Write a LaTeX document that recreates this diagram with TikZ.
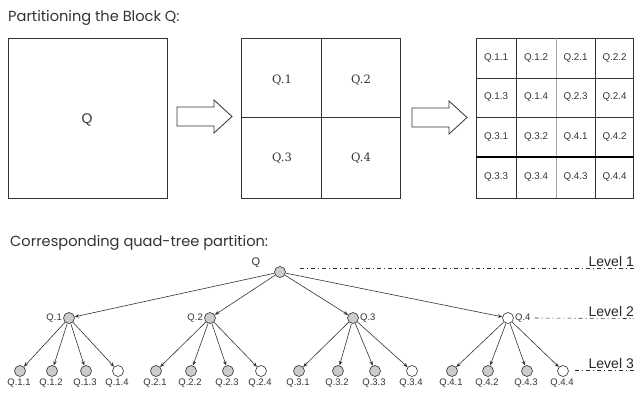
\documentclass[tikz,border=0pt]{standalone}
\usepackage{fontspec}
\setmainfont{Liberation Sans}
\newfontfamily\titlefont{Poppins}
\newfontfamily\labfont{Liberation Sans}
\newfontfamily\serfont{DejaVu Serif}
\usetikzlibrary{arrows.meta}
\definecolor{ln}{HTML}{333333}
\definecolor{nodefill}{HTML}{CCCCCC}
\tikzset{
  box/.style={draw=ln, line width=0.8pt},
  hollowarrow/.style={draw=ln, line width=0.8pt, fill=white},
  title/.style={font=\titlefont\fontsize{14.6}{16}\selectfont, text=ln, inner sep=0pt, anchor=base west},
  midlab/.style={font=\serfont\fontsize{11.5}{13}\selectfont, text=ln, inner sep=0pt},
  gridlab/.style={font=\labfont\fontsize{9.8}{11}\selectfont, text=ln, inner sep=0pt},
  tn/.style={circle, draw=ln, line width=0.6pt, fill=nodefill, minimum size=11pt, inner sep=0pt},
  tw/.style={circle, draw=ln, line width=0.6pt, fill=white, minimum size=11pt, inner sep=0pt},
  tlab/.style={font=\labfont\fontsize{9.5}{11}\selectfont, text=ln, inner sep=0pt},
  edge/.style={draw=ln, line width=0.6pt, -{Stealth[length=4.5pt,width=3.5pt]}},
  levelline/.style={draw=ln, line width=0.6pt, dash pattern=on 4pt off 3pt on 1pt off 3pt},
  leveltext/.style={font=\labfont\fontsize{14}{16}\selectfont, text=black!85, inner sep=0pt, anchor=base east},
}
\begin{document}
\begin{tikzpicture}[x=1pt,y=-1pt]
\useasboundingbox (0,0) rectangle (634,394);
% titles
\node[title] (t1) at (8,21) {Partitioning the Block Q:};
\node[title] (t2) at (10,246) {Corresponding quad-tree partition:};
% big square
\draw[box] (8,38) rectangle (167,198);
\node[font=\labfont\fontsize{14}{16}\selectfont, text=ln] (bigq) at (87,120) {Q};
% arrow 1
\draw[hollowarrow] (177,107) -- (214,107) -- (214,100) -- (232,116.5) -- (214,133) -- (214,126) -- (177,126) -- cycle;
% middle square
\draw[box] (241,38) rectangle (400,198);
\draw[box] (321,38) -- (321,198);
\draw[box] (241,117.5) -- (400,117.5);
\node[midlab] (m1) at (282,80) {Q.1};
\node[midlab] (m2) at (361,80) {Q.2};
\node[midlab] (m3) at (282,158) {Q.3};
\node[midlab] (m4) at (361,158) {Q.4};
% arrow 2
\draw[hollowarrow] (412,108) -- (449,108) -- (449,101) -- (467,117.5) -- (449,134) -- (449,127) -- (412,127) -- cycle;
% grid
\draw[box] (476,38) rectangle (633.5,198);
\draw[box] (516,38) -- (516,198);
\draw[box, draw=gray!70] (556,38) -- (556,198);
\draw[box] (595,38) -- (595,198);
\draw[box] (476,78) -- (633.5,78);
\draw[box] (476,117.5) -- (633.5,117.5);
\draw[box, line width=1.4pt, draw=black] (476,157) -- (633.5,157);
\foreach \lab/\x/\y in {Q.1.1/496/58, Q.1.2/536/58, Q.2.1/575.5/58, Q.2.2/614.5/58,
  Q.1.3/496/97.5, Q.1.4/536/97.5, Q.2.3/575.5/97.5, Q.2.4/614.5/97.5,
  Q.3.1/496/137, Q.3.2/536/137, Q.4.1/575.5/137, Q.4.2/614.5/137,
  Q.3.3/496/177.5, Q.3.4/536/177.5, Q.4.3/575.5/177.5, Q.4.4/614.5/177.5}
  \node[gridlab] (g\lab) at (\x,\y) {\lab};
% tree
\node[tn] (r) at (280,272) {};
\node[tlab, font=\labfont\fontsize{11}{13}\selectfont] (rl) at (256,263) {Q};
\node[tn] (q1) at (69,318) {};
\node[tn] (q2) at (210,318) {};
\node[tn] (q3) at (353,318) {};
\node[tw] (q4) at (508,318) {};
\node[tlab, anchor=east] (q1l) at (62,318) {Q.1};
\node[tlab, anchor=east] (q2l) at (203,318) {Q.2};
\node[tlab, anchor=west] (q3l) at (360,318) {Q.3};
\node[tlab, anchor=west] (q4l) at (515,318) {Q.4};
\foreach \n in {1,2,3,4} \draw[edge] (r) -- (q\n);
% level 3
\foreach \p/\k/\x/\s in {1/1/20/tn, 1/2/52/tn, 1/3/86/tn, 1/4/118/tw,
  2/1/156/tn, 2/2/191/tn, 2/3/228/tn, 2/4/261/tw,
  3/1/299/tn, 3/2/338/tn, 3/3/375/tn, 3/4/412/tw,
  4/1/452/tn, 4/2/488/tn, 4/3/527/tn, 4/4/563/tw} {
  \node[\s] (c\p\k) at (\x,371) {};
  \node[tlab, anchor=north] (c\p\k l) at (\x-1,378.5) {Q.\p.\k};
  \draw[edge] (q\p) -- (c\p\k);
}
% levels
\coordinate (l1s) at (300,268);
\coordinate (l1e) at (634,268);
\coordinate (l2e) at (634,318.5);
\coordinate (l3s) at (575,370);
\coordinate (l3e) at (634,370);
\draw[levelline] (l1s) -- (l1e);
\draw[levelline] ([xshift=4pt]q4l.east) -- (l2e);
\draw[levelline] (l3s) -- (l3e);
\node[leveltext] (lv1) at (634,266) {Level 1};
\node[leveltext] (lv2) at (634,316.5) {Level 2};
\node[leveltext] (lv3) at (634,368) {Level 3};
\end{tikzpicture}
\end{document}
